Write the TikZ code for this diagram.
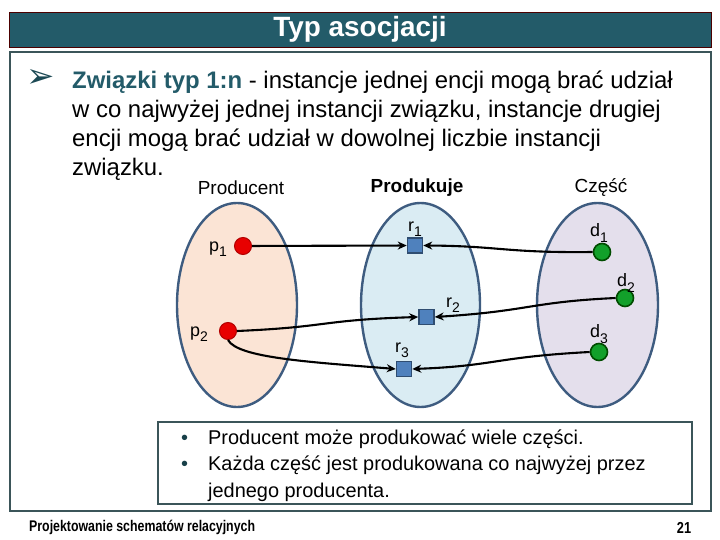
\documentclass[tikz,border=0pt]{standalone}
\usepackage{fontspec}
\setmainfont{Liberation Sans}
\newfontfamily\symfont{DejaVu Sans}
\newfontfamily\footfont[FakeStretch=0.8]{Liberation Sans}
\usepackage{xcolor}
\usetikzlibrary{arrows.meta,positioning}
\definecolor{slidebar}{HTML}{235B69}
\definecolor{framecol}{HTML}{3B5559}
\definecolor{rimcol}{HTML}{3E5C80}
\definecolor{prodfill}{HTML}{FBE4D5}
\definecolor{relfill}{HTML}{DAECF3}
\definecolor{partfill}{HTML}{E4DFEC}
\definecolor{dotred}{HTML}{E80000}
\definecolor{sqblue}{HTML}{4F81BD}
\definecolor{dotgreen}{HTML}{12A02A}
\newcommand{\lowidx}[1]{\raisebox{-0.3em}{\fontsize{14}{14}\selectfont #1}}

\begin{document}
\begin{tikzpicture}[x=1bp, y=-1bp, >=Stealth,
  body/.style={anchor=base west, inner sep=0pt, font=\fontsize{24}{29}\selectfont},
  small/.style={anchor=base west, inner sep=0pt, font=\fontsize{20}{24}\selectfont},
  head/.style={inner sep=0pt, font=\fontsize{19}{22}\selectfont},
  lbl/.style={inner sep=0pt, font=\fontsize{18}{20}\selectfont},
  set/.style={draw=rimcol, line width=2.4bp},
  pdot/.style={circle, draw=red!70!black, fill=dotred, line width=1bp, minimum size=17bp, inner sep=0pt},
  ddot/.style={circle, draw=green!30!black, fill=dotgreen, line width=1.6bp, minimum size=17bp, inner sep=0pt},
  rbox/.style={rectangle, draw=sqblue!60!black, fill=sqblue, line width=1.5bp, minimum size=15bp, inner sep=0pt},
  link/.style={-{Stealth[length=9bp,width=8bp]}, line width=2.1bp}]
  \useasboundingbox (0,0) rectangle (720,540);
  % Title bar
  \draw[fill=slidebar, draw=black!70!red, line width=0.8bp] (9,12) rectangle (711,47);
  \node[text=white, font=\fontsize{28}{30}\selectfont\bfseries, anchor=base] (title) at (360,37) {Typ asocjacji};
  % Frames
  \draw[framecol, line width=1.2bp] (10,52) rectangle (711,511);
  \draw[framecol, line width=1.2bp] (158,422) rectangle (692,504);
  % Main text
  \node[text=slidebar!80!black, font=\symfont\fontsize{34}{36}\selectfont] (arrowmark) at (41,78) {➢};
  \node[body] (line1) at (72,89) {{\color{slidebar}\bfseries Związki typ 1:n} - instancje jednej encji mogą brać udział};
  \node[body] (line2) at (72,118) {w co najwyżej jednej instancji związku, instancje drugiej};
  \node[body] (line3) at (72,147) {encji mogą brać udział w dowolnej liczbie instancji};
  \node[body] (line4) at (72,176) {związku.};
  % Entity sets
  \draw[set, fill=prodfill] (237,305) ellipse [x radius=60, y radius=102];
  \draw[set, fill=relfill] (420.5,305) ellipse [x radius=59.5, y radius=102];
  \draw[set, fill=partfill] (597.5,305) ellipse [x radius=60.5, y radius=102];
  \node[head] (hprod) at (241,188) {Producent};
  \node[head, font=\fontsize{19}{22}\selectfont\bfseries] (hrel) at (417,188) {Produkuje};
  \node[head] (hpart) at (601,188) {Część};
  % Instances
  \foreach \n/\x/\y in {1/243/246, 2/228/331}
    \node[pdot] (p\n) at (\x,\y) {};
  \foreach \n/\x/\y in {1/415/245.5, 2/426.5/317, 3/404/369}
    \node[rbox] (r\n) at (\x,\y) {};
  \foreach \n/\x/\y in {1/602/252, 2/625/298, 3/599/352}
    \node[ddot] (d\n) at (\x,\y) {};
  % Labels
  \foreach \n/\x/\y in {1/218/249, 2/199/334}
    \node[lbl] (lp\n) at (\x,\y) {p\lowidx{\n}};
  \foreach \n/\x/\y in {1/415/229, 2/453/305, 3/402/350}
    \node[lbl] (lr\n) at (\x,\y) {r\lowidx{\n}};
  \foreach \n/\x/\y in {1/599/233, 2/626/283, 3/599/334}
    \node[lbl] (ld\n) at (\x,\y) {d\lowidx{\n}};
  % Links
  \draw[link] (p1) -- (r1);
  \draw[link] (p2.east) .. controls (330,327) and (320,320) .. (r2.west);
  \draw[link] (p2.south) .. controls (238,358) and (310,362) .. (r3.west);
  \draw[link] (d1.west) .. controls (505,253) and (500,246) .. (r1.east);
  \draw[link] (d2.west) .. controls (530,302) and (530,311) .. (r2.east);
  \draw[link] (d3.west) .. controls (495,357) and (495,366) .. (r3.east);
  % Notes
  \foreach \n/\y in {1/444, 2/470.5}
    \node[small, text=slidebar!70!black] (dot\n) at (181,\y) {•};
  \node[small] (note1) at (208,444) {Producent może produkować wiele części.};
  \node[small] (note2) at (208,470.5) {Każda część jest produkowana co najwyżej przez};
  \node[small] (note3) at (208,497) {jednego producenta.};
  % Footer
  \node[anchor=base west, inner sep=0pt, font=\footfont\fontsize{15.5}{17}\selectfont\bfseries] (foot) at (29,531) {Projektowanie schematów relacyjnych};
  \node[anchor=base, inner sep=0pt, font=\footfont\fontsize{16}{17}\selectfont\bfseries] (page) at (684,533) {21};
\end{tikzpicture}
\end{document}
